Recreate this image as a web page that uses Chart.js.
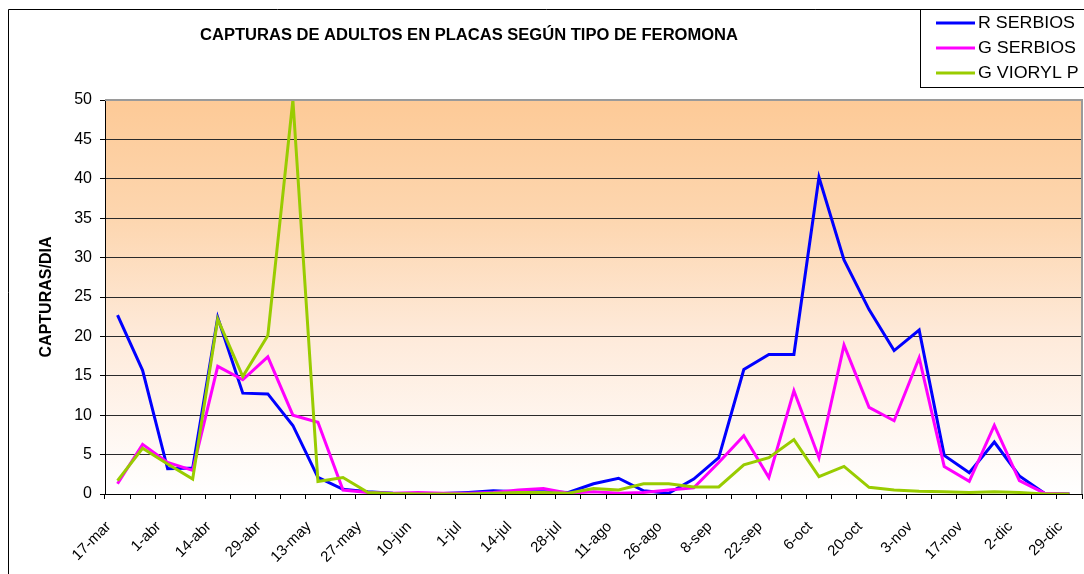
<!DOCTYPE html>
<html>
<head>
<meta charset="utf-8">
<script src="https://cdn.jsdelivr.net/npm/chart.js@4.4.1/dist/chart.umd.min.js"></script>
<style>
html,body{margin:0;padding:0;background:#fff;}
#wrap{width:1084px;height:574px;position:relative;}
</style>
</head>
<body>
<div id="wrap"><canvas id="c" width="1084" height="574"></canvas></div>
<script>
const TITLE = 'CAPTURAS DE ADULTOS EN PLACAS SEGÚN TIPO DE FEROMONA';
const Y_TITLE = 'CAPTURAS/DIA';
const categories = ['17-mar','24-mar','1-abr','7-abr','14-abr','22-abr','29-abr','6-may','13-may','20-may',
  '27-may','3-jun','10-jun','17-jun','1-jul','7-jul','14-jul','21-jul','28-jul','4-ago',
  '11-ago','18-ago','26-ago','1-sep','8-sep','15-sep','22-sep','29-sep','6-oct','13-oct',
  '20-oct','27-oct','3-nov','10-nov','17-nov','24-nov','2-dic','15-dic','29-dic'];
const rSerbios = [22.7,15.7,3.2,3.3,22.4,12.8,12.7,8.7,2.1,0.6,
  0.3,0.1,0.0,0.05,0.2,0.4,0.3,0.3,0.2,1.3,
  2.0,0.4,0.1,1.9,4.6,15.8,17.7,17.7,40.2,29.7,
  23.4,18.2,20.8,4.9,2.7,6.6,2.3,0.1,0];
const gSerbios = [1.3,6.3,4.0,3.0,16.2,14.5,17.4,10.0,9.1,0.5,
  0.2,0.1,0.2,0.1,0.1,0.2,0.5,0.7,0.1,0.3,
  0.1,0.2,0.5,0.8,4.0,7.4,2.1,13.1,4.6,18.9,
  11.0,9.3,17.3,3.5,1.6,8.7,1.7,0.1,0];
const gVioryl = [1.7,5.8,3.8,1.9,22.2,14.9,20.1,50,1.6,2.1,
  0.2,0.05,0,0,0,0.1,0.2,0.2,0.1,0.7,
  0.5,1.3,1.3,0.9,0.9,3.7,4.6,6.9,2.2,3.5,
  0.85,0.5,0.35,0.3,0.2,0.3,0.2,0.0,0];
const yTicks = [0,5,10,15,20,25,30,35,40,45,50];

const FONT = '"Liberation Sans", Arial, sans-serif';

const decor = {
  id: 'decor',
  beforeDraw(chart) {
    const ctx = chart.ctx, a = chart.chartArea;
    ctx.save();
    ctx.fillStyle = '#fff';
    ctx.fillRect(0, 0, chart.width, chart.height);
    ctx.strokeStyle = '#000';
    ctx.lineWidth = 1;
    ctx.beginPath();
    ctx.moveTo(8.5, chart.height + 2);
    ctx.lineTo(8.5, 9.5);
    ctx.lineTo(chart.width + 2, 9.5);
    ctx.stroke();
    const g = ctx.createLinearGradient(0, a.top, 0, a.bottom);
    g.addColorStop(0, '#FDCA97');
    g.addColorStop(0.3, '#FDD6AF');
    g.addColorStop(0.6, '#FEEADA');
    g.addColorStop(1, '#FFFFFF');
    ctx.fillStyle = g;
    ctx.fillRect(a.left, a.top, a.right - a.left, a.bottom - a.top);
    ctx.restore();
  },
  afterDraw(chart) {
    const ctx = chart.ctx, a = chart.chartArea;
    ctx.save();
    ctx.strokeStyle = '#9a9a9a';
    ctx.lineWidth = 2;
    ctx.beginPath();
    ctx.moveTo(a.left, a.top);
    ctx.lineTo(a.right, a.top);
    ctx.lineTo(a.right, a.bottom);
    ctx.stroke();
    ctx.fillStyle = '#000';
    ctx.font = 'bold 16px ' + FONT;
    ctx.textAlign = 'center';
    ctx.textBaseline = 'middle';
    const tw = ctx.measureText(TITLE).width;
    ctx.save();
    ctx.translate(469, 36);
    ctx.scale(538 / tw, 1);
    ctx.fillText(TITLE, 0, 0);
    ctx.restore();
    ctx.fillStyle = '#fff';
    ctx.fillRect(920.5, 9.5, 200, 78);
    ctx.strokeStyle = '#000';
    ctx.lineWidth = 1;
    ctx.strokeRect(920.5, 9.5, 200, 78);
    ctx.font = '16px ' + FONT;
    ctx.textAlign = 'left';
    ctx.textBaseline = 'middle';
    const sx = 97 / ctx.measureText(chart.data.datasets[0].label).width;
    chart.data.datasets.forEach((ds, i) => {
      const y = 23 + i * 25;
      ctx.strokeStyle = ds.borderColor;
      ctx.lineWidth = 3;
      ctx.beginPath();
      ctx.moveTo(936, y);
      ctx.lineTo(975, y);
      ctx.stroke();
      ctx.fillStyle = '#000';
      ctx.save();
      ctx.translate(978, y + 1);
      ctx.scale(sx, 1);
      ctx.fillText(ds.label, 0, 0);
      ctx.restore();
    });
    ctx.restore();
  }
};

new Chart(document.getElementById('c'), {
  type: 'line',
  data: {
    labels: categories,
    datasets: [
      {label: 'R SERBIOS', data: rSerbios, borderColor: '#0000FF', borderWidth: 3, pointRadius: 0, tension: 0, order: 3},
      {label: 'G SERBIOS', data: gSerbios, borderColor: '#FF00FF', borderWidth: 3, pointRadius: 0, tension: 0, order: 2},
      {label: 'G VIORYL P', data: gVioryl, borderColor: '#99CC00', borderWidth: 3, pointRadius: 0, tension: 0, order: 1}
    ]
  },
  options: {
    responsive: false,
    animation: false,
    events: [],
    layout: {padding: {top: 100, right: 2, left: 0, bottom: 0}},
    plugins: {legend: {display: false}, title: {display: false}, tooltip: {enabled: false}},
    scales: {
      x: {
        offset: true,
        grid: {display: true, drawOnChartArea: false, drawTicks: true, tickLength: 5, color: '#000', offset: true},
        border: {display: true, color: '#000', width: 1},
        ticks: {
          autoSkip: false, minRotation: 45, maxRotation: 45, padding: 19, labelOffset: -9,
          color: '#000', font: {family: FONT, size: 15},
          callback: function(v, i) { return i % 2 === 0 ? this.getLabelForValue(v) : ''; }
        },
        afterFit(s) { s.height = 80; s.paddingLeft = 0; s.paddingRight = 0; }
      },
      y: {
        min: 0, max: 50,
        afterBuildTicks(s) { s.ticks = yTicks.map(v => ({value: v})); },
        grid: {color: '#2a2a2a', lineWidth: 1, drawTicks: true, tickLength: 5, tickColor: '#000'},
        border: {display: true, color: '#000', width: 1},
        ticks: {stepSize: 5, padding: 8, color: '#000', font: {family: FONT, size: 16}},
        title: {display: true, text: Y_TITLE, color: '#000', font: {family: FONT, size: 16, weight: 'bold'}, padding: {top: 37, bottom: 0}},
        afterFit(s) { s.width = 105; s.paddingTop = 0; s.paddingBottom = 0; }
      }
    }
  },
  plugins: [decor]
});
</script>
</body>
</html>
